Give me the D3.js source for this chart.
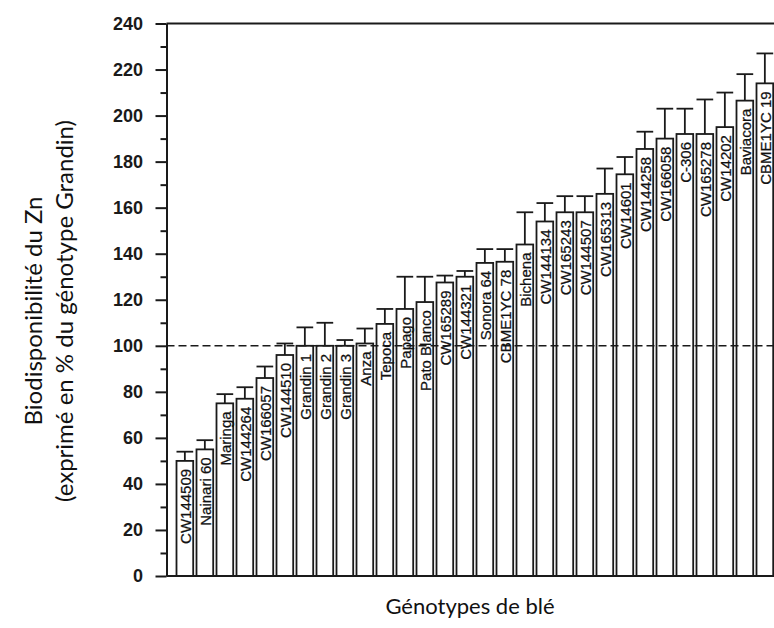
<!DOCTYPE html>
<html>
<head>
<meta charset="utf-8">
<script src="https://cdn.jsdelivr.net/npm/d3@7/dist/d3.min.js"></script>
<style>
  html, body { margin: 0; padding: 0; background: #fff; }
  svg { display: block; }
</style>
</head>
<body>
<svg id="chart" width="774" height="628"></svg>
<script>
const genotypes = ["CW144509","Nainari 60","Maringa","CW144264","CW166057","CW144510",
  "Grandin 1","Grandin 2","Grandin 3","Anza","Tepoca","Papago","Pato Blanco","CW165289",
  "CW144321","Sonora 64","CBME1YC 78","Bichena","CW144134","CW165243","CW144507",
  "CW165313","CW14601","CW144258","CW166058","C-306","CW165278","CW14202","Baviacora","CBME1YC 19"];
const values = [50,55,75,77,86,96,100,100,100,101,109.5,116,119,127.5,130,136,136.5,144,154,158,158,166,174.5,185.5,190,192,192,195,206.5,214];
const errors = [4,4,4,5,5,5,8,10,2.5,6.5,6.5,14,11,3,2.5,6,5.5,14,8,7,7,11,7.5,7.5,13,11,15,15,11.5,13];
const yMajorTicks = [0,20,40,60,80,100,120,140,160,180,200,220,240];
const yMinorTicks = [10,30,50,70,90,110,130,150,170,190,210,230];
const refValue = 100;

const svg = d3.select("#chart");
const W = 774;
const axisX = 166.5;
const ink = "#1a1a1a";

const y = d3.scaleLinear().domain([0, 240]).range([576, 23.5]);
const x = d3.scaleBand().domain(genotypes)
  .range([axisX, axisX + 20 * (genotypes.length - 0.165 + 1)])
  .paddingInner(0.165).paddingOuter(0.5);
const bw = x.bandwidth();

// Bars
svg.append("g").selectAll("rect").data(genotypes).join("rect")
  .attr("x", d => x(d))
  .attr("width", bw)
  .attr("y", (d, i) => y(values[i]))
  .attr("height", (d, i) => y(0) - y(values[i]))
  .attr("fill", "#fff")
  .attr("stroke", ink)
  .attr("stroke-width", 1.8);

// Error bars
const eb = svg.append("g").attr("stroke", ink).attr("stroke-width", 1.8);
genotypes.forEach((g, i) => {
  const cx = x(g) + bw / 2;
  eb.append("line").attr("x1", cx).attr("x2", cx)
    .attr("y1", y(values[i])).attr("y2", y(values[i] + errors[i]));
  eb.append("line").attr("x1", x(g)).attr("x2", x(g) + bw)
    .attr("y1", y(values[i] + errors[i])).attr("y2", y(values[i] + errors[i]));
});

// Reference dashed line
svg.append("line")
  .attr("x1", axisX).attr("x2", W)
  .attr("y1", y(refValue)).attr("y2", y(refValue))
  .attr("stroke", ink).attr("stroke-width", 1.6)
  .attr("stroke-dasharray", "8,4");

// Labels inside bars
svg.append("g").selectAll("text").data(genotypes).join("text")
  .attr("transform", (d, i) => `translate(${x(d) + bw / 2 + 0.5},${y(values[i]) + 8}) rotate(-90)`)
  .attr("text-anchor", "end")
  .attr("dominant-baseline", "central")
  .attr("font-family", "Liberation Sans, Arial, sans-serif")
  .attr("font-size", 15)
  .attr("fill", "#111")
  .attr("stroke", "#111")
  .attr("stroke-width", 0.25)
  .text(d => d);

// Y axis
const yAxis = d3.axisLeft(y).tickValues(yMajorTicks).tickSize(11).tickPadding(12.5).tickSizeOuter(0);
const gy = svg.append("g").attr("transform", `translate(${axisX},0)`).call(yAxis);
gy.select(".domain").attr("stroke", ink).attr("stroke-width", 2);
gy.selectAll(".tick line").attr("stroke", ink).attr("stroke-width", 2);
gy.selectAll(".tick text")
  .attr("font-family", "Liberation Sans, Arial, sans-serif")
  .attr("font-size", 18).attr("font-weight", "bold").attr("fill", ink);

const yMinor = d3.axisLeft(y).tickValues(yMinorTicks).tickSize(6).tickFormat("").tickSizeOuter(0);
const gym = svg.append("g").attr("transform", `translate(${axisX},0)`).call(yMinor);
gym.select(".domain").remove();
gym.selectAll(".tick line").attr("stroke", ink).attr("stroke-width", 2);

// Bottom axis line and top frame line
svg.append("line").attr("x1", axisX).attr("x2", W).attr("y1", y(0)).attr("y2", y(0))
  .attr("stroke", ink).attr("stroke-width", 2);
svg.append("line").attr("x1", axisX).attr("x2", W).attr("y1", y(240)).attr("y2", y(240))
  .attr("stroke", ink).attr("stroke-width", 2);

// Axis titles
svg.append("text")
  .attr("x", 470).attr("y", 614)
  .attr("text-anchor", "middle")
  .attr("font-family", "Lato, Carlito, sans-serif")
  .attr("font-size", 22)
  .attr("fill", "#111")
  .text("Génotypes de blé");

const yt = svg.append("text")
  .attr("transform", "translate(0,311) rotate(-90)")
  .attr("text-anchor", "middle")
  .attr("font-family", "Lato, Carlito, sans-serif")
  .attr("font-size", 24)
  .attr("fill", "#111");
yt.append("tspan").attr("x", 0).attr("y", 42).text("Biodisponibilité du Zn");
yt.append("tspan").attr("x", 0).attr("y", 73).text("(exprimé en % du génotype Grandin)");
</script>
</body>
</html>
